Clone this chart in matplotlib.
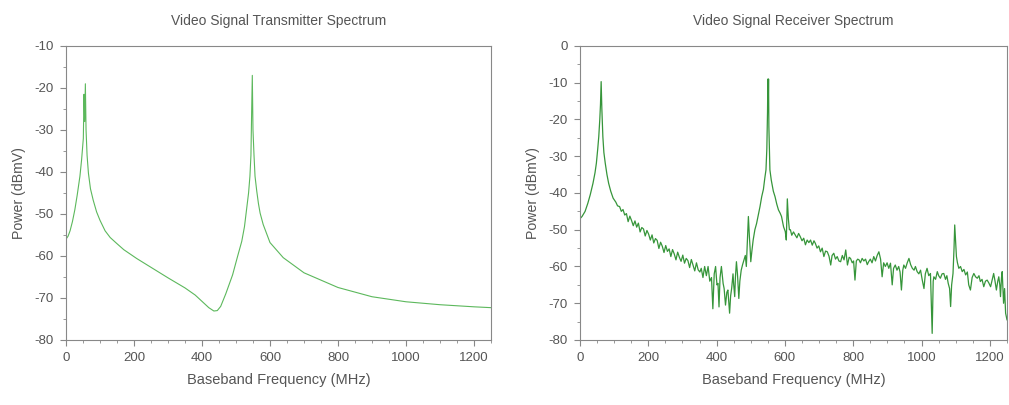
"""Transmitter / receiver baseband spectra of the video link."""
import numpy as np
import matplotlib.pyplot as plt
from matplotlib.ticker import MultipleLocator

# transmitter spectrum (MHz, dBmV)
tx_freq = [0, 6, 12, 19, 26, 33, 41, 46, 51, 53, 55, 57, 59, 62,
           66, 72, 80, 90, 100, 115, 130, 149, 170, 208, 250, 300, 350,
           380, 400, 420, 435, 445, 455, 470, 490, 505, 517, 525, 531,
           537, 541, 544, 546, 548, 550, 553, 556, 561, 566, 571, 580,
           600, 639, 700, 800, 900, 1000, 1100, 1200, 1250]
tx_power = [-56, -55.3, -54, -51.8, -49, -45.5, -41, -37, -32, -21.5, -28, -19, -30, -36,
            -40.3, -44, -46.7, -49.5, -51.5, -54, -55.6, -57, -58.5, -60.6, -62.7, -65.2, -67.6,
            -69.3, -70.8, -72.3, -73.1, -73, -72, -69, -64.5, -60, -56.5, -53, -49,
            -45, -41, -36, -26, -17, -30, -36, -41, -44.5, -47.5, -49.8, -52.5,
            -56.8, -60.4, -64, -67.5, -69.7, -70.9, -71.6, -72.1, -72.3]

# receiver spectrum (MHz, dBmV)
rx_freq = [0, 6, 15, 23, 30, 38, 44, 48, 52, 55,
           58, 60, 62, 64, 67, 70, 74, 79, 84, 90,
           97, 105, 110, 116, 121, 126, 131, 136, 141, 146,
           151, 156, 161, 166, 171, 176, 181, 186, 191, 196,
           201, 206, 211, 216, 221, 226, 231, 236, 241, 246,
           251, 256, 261, 266, 271, 276, 281, 286, 291, 296,
           301, 306, 311, 316, 321, 326, 331, 336, 341, 346,
           351, 355, 360, 365, 370, 375, 380, 385, 389, 393,
           397, 401, 404, 407, 410, 414, 419, 422, 426, 430,
           433, 436, 438, 441, 444, 448, 450, 453, 455, 458,
           461, 465, 468, 472, 476, 480, 484, 487, 490, 493,
           496, 498, 500, 503, 507, 512, 517, 522, 527, 532,
           537, 541, 544.5, 547, 549, 550, 551, 552, 553, 556,
           560, 566, 571, 576, 581, 586, 590, 596, 601, 604,
           607, 610, 613, 616, 620, 625, 630, 635, 640, 645,
           650, 655, 660, 665, 670, 675, 680, 685, 689, 694,
           699, 704, 709, 714, 719, 724, 729, 734, 738, 743,
           748, 753, 758, 763, 768, 773, 778, 783, 788, 792,
           797, 801, 805, 809, 813, 817, 821, 826, 831, 836,
           841, 845, 850, 855, 860, 865, 870, 875, 880, 884.5,
           889, 894, 899, 904, 909, 914, 918, 923, 928, 933,
           937, 941, 945, 948, 953, 958, 963, 968, 973, 978,
           982, 987, 992, 997, 1002, 1007, 1011, 1016, 1021, 1026,
           1031, 1034, 1036, 1041, 1046, 1050, 1055, 1060, 1065, 1070,
           1074, 1078, 1082, 1085, 1088, 1092, 1095, 1097, 1100, 1102,
           1105, 1109, 1114, 1119, 1124, 1129, 1134, 1138, 1143, 1148,
           1153, 1158, 1163, 1168, 1172, 1177, 1182, 1187, 1192, 1197,
           1202, 1207, 1211, 1215, 1219, 1223, 1226, 1229, 1231, 1234,
           1236, 1238, 1240, 1243, 1246, 1250]
rx_power = [-47, -46.4, -45, -42.8, -40.5, -37.4, -34.5, -31.9, -28, -24.7,
            -20, -16, -9.7, -17, -24.7, -29, -31.9, -35, -37.4, -39.5,
            -41.4, -42.5, -43.5, -43.7, -45, -44.5, -46, -45.6, -47.8, -46.3,
            -47.5, -48.9, -47.6, -49.3, -48.2, -50.6, -49.4, -49.8, -51.7, -50.2,
            -51.2, -52.8, -51.4, -53.6, -52.4, -52.9, -55.1, -53.4, -54.5, -56.2,
            -54.3, -55.9, -55.2, -57.3, -55.4, -56.6, -58.2, -56.1, -57.5, -58.6,
            -56.9, -59.1, -57.8, -58.4, -60.3, -58.1, -59.6, -61.2, -59, -60.9,
            -61.5, -60.5, -63, -60, -62.5, -60, -64, -63, -71.5, -62,
            -60, -65, -64.6, -71, -63, -60, -64.6, -66, -70.5, -67,
            -66.4, -70, -72.7, -68, -66, -62, -65, -68.2, -63, -58.7,
            -62, -68.7, -64, -61, -59.5, -58.2, -57, -60, -53, -46.4,
            -52, -55, -58.7, -56, -52.8, -50, -48.3, -46, -43.7, -41,
            -39, -36, -33.7, -28, -18, -9, -17.4, -9, -22, -33.7,
            -36.5, -39.5, -41, -43, -44.6, -45.5, -46.4, -49.2, -50.5, -52.8,
            -41.6, -47, -50, -50, -51.5, -50.6, -51.4, -52.2, -51, -51.9,
            -53, -52.3, -54.1, -52.8, -53.5, -52.8, -54.2, -53, -53.7, -55,
            -54.4, -56, -55, -57.3, -55.8, -56, -57.2, -59.6, -57, -56.4,
            -58, -57.3, -58.5, -58.7, -57, -58.2, -55.5, -59.6, -57.5, -57.8,
            -59, -58.5, -63.7, -58.5, -58, -58.2, -59, -57.8, -58.5, -58,
            -59.5, -58.7, -58, -59, -57.3, -58.5, -57, -56, -58, -62.8,
            -59, -60, -59, -60.5, -59.1, -65, -60.5, -59.6, -61, -60,
            -61.5, -66.4, -61, -59.6, -60.5, -59, -57.8, -59.5, -60.5, -61,
            -60, -61.4, -62, -61, -63.7, -66, -62, -60.5, -62.5, -61.9,
            -78.2, -64, -62.8, -63.5, -61.4, -62.5, -63.2, -62, -61.9, -63.5,
            -62.5, -64.6, -66, -70.9, -65, -61.9, -55, -48.7, -54, -57.3,
            -59, -60.5, -60, -61.4, -60.8, -62.3, -61.5, -65, -66.4, -63,
            -61.9, -62.8, -63.2, -62.5, -64.1, -63.5, -65.5, -64, -63.7, -64.5,
            -65.5, -63.5, -61.9, -64, -66.4, -64, -62.8, -65, -68.2, -63,
            -61.4, -66, -70, -66, -72.7, -74.5]

assert len(tx_freq) == len(tx_power)
assert len(rx_freq) == len(rx_power)

TXT = "#555555"
SPINE = "#888888"

plt.rcParams["font.family"] = ["Liberation Sans", "DejaVu Sans"]
plt.rcParams["axes.unicode_minus"] = False

fig = plt.figure(figsize=(10.09, 4.05), dpi=100)

panels = [
    ([0.0654, 0.1605, 0.4212, 0.726], tx_freq, tx_power, "#5cb85c", 0.8,
     "Video Signal Transmitter Spectrum", (-80, -10)),
    ([0.5748, 0.1605, 0.4232, 0.726], rx_freq, rx_power, "#36953a", 0.9,
     "Video Signal Receiver Spectrum", (-80, 0)),
]

for rect, f, p, col, lw, title, ylim in panels:
    ax = fig.add_axes(rect)
    ax.plot(np.array(f), np.array(p), color=col, lw=lw)
    ax.set_xlim(0, 1250)
    ax.set_ylim(*ylim)
    ax.xaxis.set_major_locator(MultipleLocator(200))
    ax.xaxis.set_minor_locator(MultipleLocator(50))
    ax.yaxis.set_major_locator(MultipleLocator(10))
    ax.yaxis.set_minor_locator(MultipleLocator(5))
    ax.tick_params(which="major", length=4, width=0.8, color=SPINE,
                   labelcolor=TXT, labelsize=9.5, pad=5)
    ax.tick_params(which="minor", length=2, width=0.6, color=SPINE)
    for s in ax.spines.values():
        s.set_color(SPINE)
        s.set_linewidth(0.8)
    ax.set_title(title, fontsize=10, color=TXT, pad=15)
    ax.set_xlabel("Baseband Frequency (MHz)", fontsize=10.5, color=TXT, labelpad=6)
    ax.set_ylabel("Power (dBmV)", fontsize=10.2, color=TXT, labelpad=6)

fig.savefig("out.png", dpi=100)
